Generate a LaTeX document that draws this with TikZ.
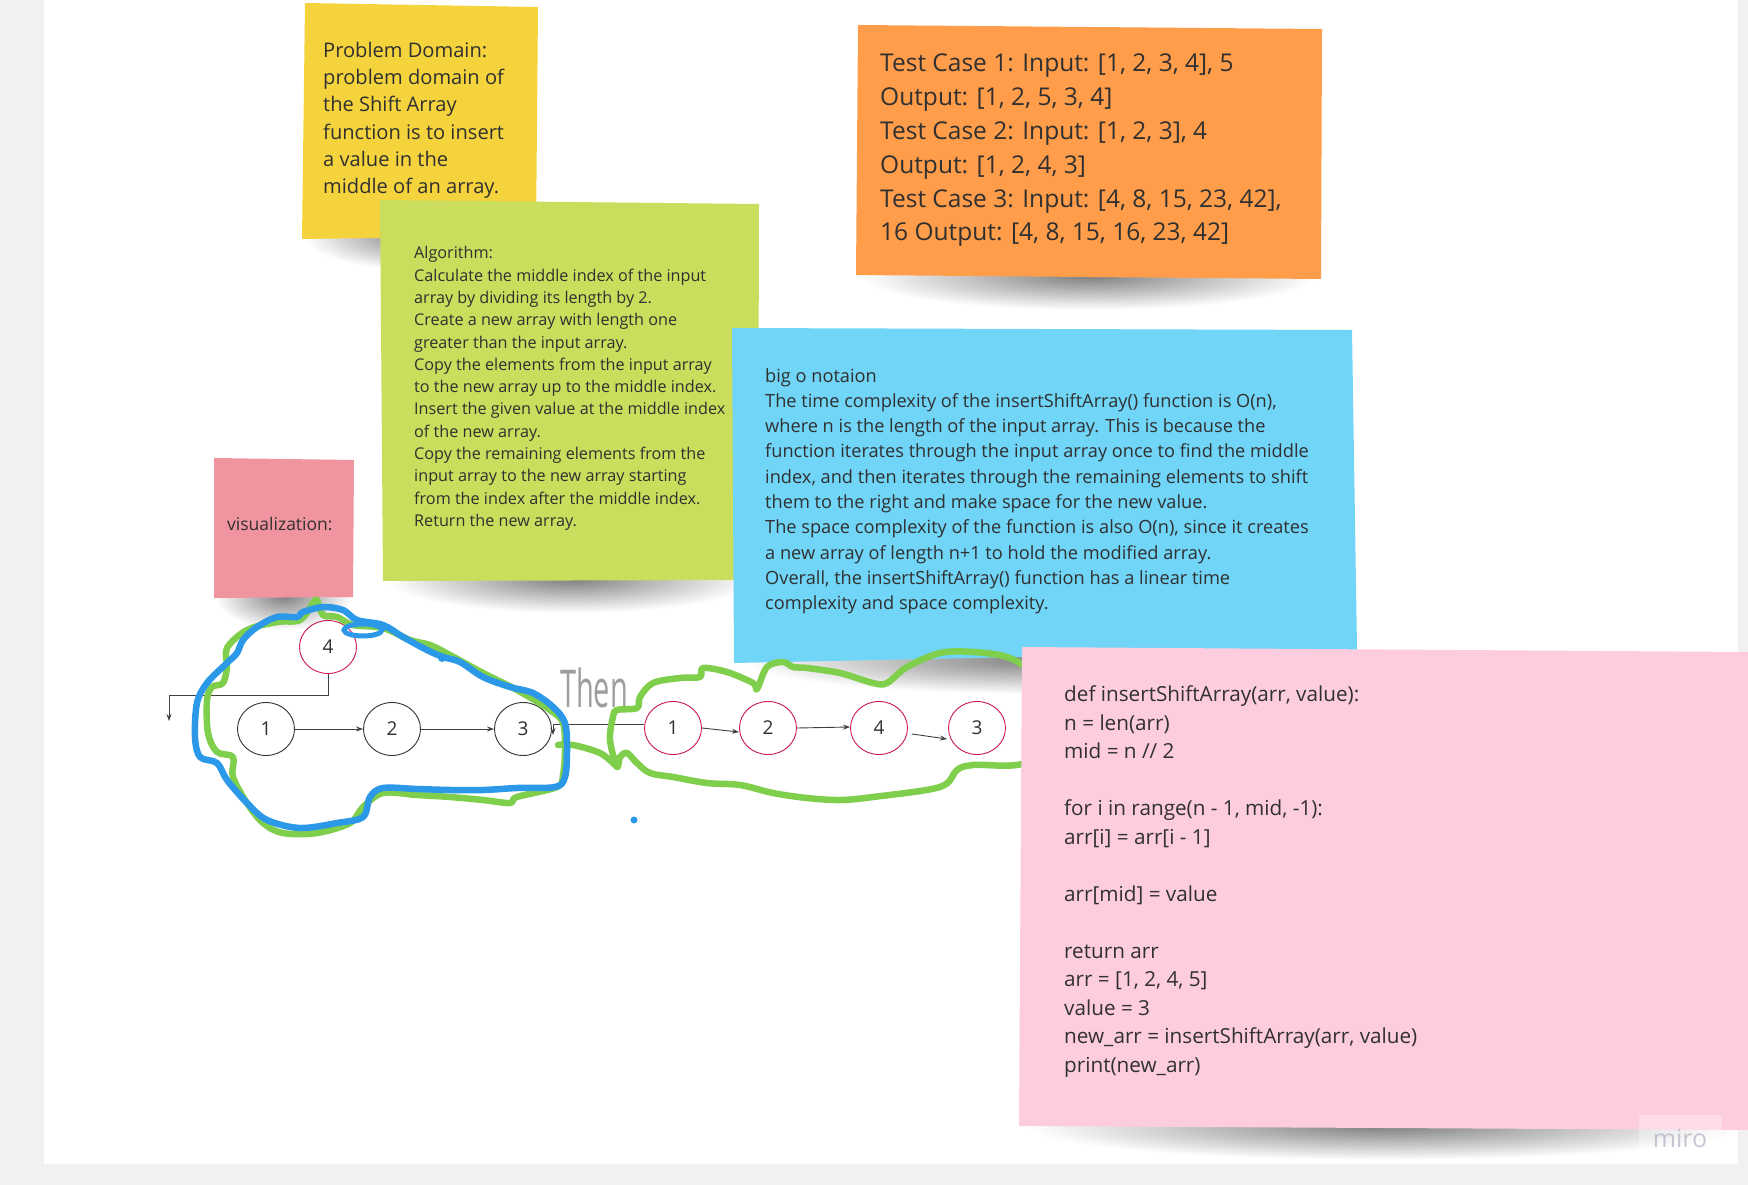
\documentclass[tikz,border=0pt]{standalone}
\usepackage{fontspec}
\setmainfont{Open Sans}
\usetikzlibrary{shapes.geometric,arrows.meta}
\definecolor{bggray}{HTML}{F1F1F1}
\definecolor{ynote}{HTML}{F4D33D}
\definecolor{gnote}{HTML}{CBDD5C}
\definecolor{vnote}{HTML}{F0959F}
\definecolor{onote}{HTML}{FF9D4A}
\definecolor{bnote}{HTML}{70D5F7}
\definecolor{pnote}{HTML}{FECCDF}
\definecolor{txtc}{HTML}{303030}
\definecolor{crim}{HTML}{C8175E}
\definecolor{penblue}{HTML}{2B98E8}
\definecolor{pengreen}{HTML}{80CF4C}
\definecolor{mirogray}{HTML}{B4B4C4}
\newcommand\nshadow[3]{%
  \shade[inner color=black!50, outer color=white]
    ({(#1+#2)/2},{#3}) ellipse [x radius={0.49*(#2-#1)}, y radius=34];}
\tikzset{
  notetext/.style={anchor=north west, inner sep=0pt, align=left, text=txtc},
  oldnode/.style={ellipse, draw=black!80, line width=0.9pt, minimum width=57pt,
    minimum height=53pt, inner sep=0pt, font=\fontsize{19}{19}\selectfont, text=txtc},
  newnode/.style={oldnode, draw=crim},
  arr/.style={-{Stealth[length=7pt,width=5pt]}, line width=0.9pt, draw=black!75},
  penline/.style={line width=6.5pt, line cap=round, line join=round},
}
\begin{document}
\begin{tikzpicture}[x=1pt,y=-1pt]
\useasboundingbox (0,0) rectangle (1748,1185);
\fill[bggray] (0,0) rectangle (1748,1185);
\fill[white] (44,0) rectangle (1738,1164);

% yellow note
\nshadow{302}{536}{236}
\fill[ynote] (305,3) -- (538,7) -- (536,236) -- (302,239) -- cycle;
\node[notetext, font=\fontsize{20.1}{27.3}\selectfont] (ytext) at (323,41.7)
  {Problem Domain:\\problem domain of\\the Shift Array\\function is to insert\\a value in the\\middle of an array.};

% green note
\nshadow{383}{758}{579}
\fill[gnote] (380,200) -- (759,204) -- (758,580) -- (383,581) -- cycle;
\node[notetext, font=\fontsize{16.2}{22.3}\selectfont] (gtext) at (414,246.3)
  {Algorithm:\\Calculate the middle index of the input\\array by dividing its length by 2.\\Create a new array with length one\\greater than the input array.\\Copy the elements from the input array\\to the new array up to the middle index.\\Insert the given value at the middle index\\of the new array.\\Copy the remaining elements from the\\input array to the new array starting\\from the index after the middle index.\\Return the new array.};

% visualization note
\nshadow{214}{353}{596}
\fill[vnote] (214,458) -- (354,460) -- (353,597) -- (214,598) -- cycle;
\node[anchor=base west, inner sep=0pt, text=txtc, font=\fontsize{17.5}{20}\selectfont] (vtext) at (227,530) {visualization:};

% orange note
\nshadow{856}{1321}{276}
\fill[onote] (858,25) -- (1322,29) -- (1321,279) -- (856,275) -- cycle;
\node[notetext, font=\fontsize{24.5}{33.8}\selectfont] (otext) at (880,54)
  {Test Case 1: Input: [1, 2, 3, 4], 5\\Output: [1, 2, 5, 3, 4]\\Test Case 2: Input: [1, 2, 3], 4\\Output: [1, 2, 4, 3]\\Test Case 3: Input: [4, 8, 15, 23, 42],\\16 Output: [4, 8, 15, 16, 23, 42]};

% blue note
\nshadow{734}{1357}{660}
\fill[bnote] (732,328) -- (1352,330) -- (1357,650) -- (734,663) -- cycle;
\node[notetext, font=\fontsize{18.2}{25.3}\selectfont] (btext) at (765,368)
  {big o notaion\\The time complexity of the insertShiftArray() function is O(n),\\where n is the length of the input array. This is because the\\function iterates through the input array once to find the middle\\index, and then iterates through the remaining elements to shift\\them to the right and make space for the new value.\\The space complexity of the function is also O(n), since it creates\\a new array of length n+1 to hold the modified array.\\Overall, the insertShiftArray() function has a linear time\\complexity and space complexity.};

% old list
\node[oldnode] (a1) at (266,729) {1};
\node[oldnode] (a2) at (392,729) {2};
\node[oldnode] (a3) at (523,729) {3};
\node[newnode] (a4) at (328,647) {4};
\draw[arr] (a1) -- (a2);
\draw[arr] (a2) -- (a3);
\coordinate (c4elbow) at (169,695);
\coordinate (c4end) at (169,721);
\draw[arr] (a4.south) |- (c4elbow) -- (c4end);

% new list
\node[newnode] (b1) at (673,728) {1};
\node[newnode] (b2) at (768,728) {2};
\node[newnode] (b4) at (879,728) {4};
\node[newnode] (b3) at (977,728) {3};
\coordinate (b1tip) at (553,735);
\draw[arr] ([yshift=4pt]b1.west) -| (b1tip);
\draw[arr] (b1.east) -- ([yshift=-4pt]b2.west);
\draw[arr] (b2.east) -- ([yshift=1pt]b4.west);
\draw[arr] ([xshift=4pt,yshift=-6pt]b4.east) -- ([xshift=-1pt,yshift=-11pt]b3.west);
\node[text=black!38, inner sep=0pt, font=\fontsize{29}{29}\selectfont] (then) at (594,688) {\scalebox{1}[1.8]{Then}};

% green pen strokes
\draw[penline, pengreen] plot[smooth cycle, tension=0.55] coordinates {
 (563,723) (565,750) (563,775) (557,787) (517,797) (510,803) (483,800) (450,797)
 (417,795) (383,793) (363,807) (350,823) (317,833) (283,833) (263,823) (247,803)
 (233,777) (233,757) (217,752) (208,733) (207,700) (212,687) (223,683) (227,667)
 (227,648) (247,630) (277,622) (300,620) (313,603) (317,600) (323,615) (337,617)
 (353,625) (383,628) (410,640) (430,645) (450,655) (483,673) (517,690) (550,710)};
\draw[penline, pengreen] plot[smooth, tension=0.55] coordinates {
 (558,745) (573,745) (600,753) (615,765)};
\draw[penline, pengreen] plot[smooth cycle, tension=0.55] coordinates {
 (617,767) (610,740) (613,717) (617,710) (637,708) (640,697) (653,683) (680,678)
 (700,677) (703,668) (727,672) (753,683) (757,689) (767,667) (783,662) (793,667)
 (807,668) (840,673) (873,683) (887,683) (907,667) (940,653) (973,652) (1007,657)
 (1030,672) (1040,700) (1030,760) (973,765) (957,770) (940,787) (873,797) (840,800)
 (807,798) (773,793) (740,785) (707,783) (673,777) (650,773) (637,763) (627,753)
 (620,757)};

% blue pen strokes
\draw[penline, penblue] plot[smooth cycle, tension=0.55] coordinates {
 (303,612) (323,607) (343,610) (357,620) (383,625) (403,637) (427,650) (443,657)
 (460,662) (483,677) (510,687) (533,693) (553,707) (565,723) (567,750) (565,777)
 (555,787) (517,788) (483,790) (450,790) (417,789) (383,788) (370,797) (363,817)
 (337,823) (300,828) (267,820) (247,803) (227,780) (217,763) (200,757) (195,737)
 (197,703) (207,683) (227,663) (237,653) (243,640) (257,627) (277,617) (297,617)};
\draw[penblue, line width=5pt] (363,630) ellipse [x radius=19, y radius=6];
\fill[penblue] (442,658) circle [radius=4];
\fill[penblue] (634,820) circle [radius=3.5];

% code note
\nshadow{1019}{1748}{1126}
\fill[pnote] (1022,647) -- (1748,652) -- (1748,1130) -- (1019,1126) -- cycle;
\node[notetext, font=\fontsize{20.7}{28.5}\selectfont] (ctext) at (1064,685.5)
  {def insertShiftArray(arr, value):\\n = len(arr)\\mid = n // 2\\[28.5pt]for i in range(n - 1, mid, -1):\\arr[i] = arr[i - 1]\\[28.5pt]arr[mid] = value\\[28.5pt]return arr\\arr = [1, 2, 4, 5]\\value = 3\\new\_arr = insertShiftArray(arr, value)\\print(new\_arr)};

% watermark
\fill[white, opacity=0.3] (1639,1115) rectangle (1722,1165);
\node[text=mirogray, opacity=0.75, inner sep=0pt, font=\fontsize{25}{25}\selectfont] (miro) at (1680,1138) {miro};
\end{tikzpicture}
\end{document}
